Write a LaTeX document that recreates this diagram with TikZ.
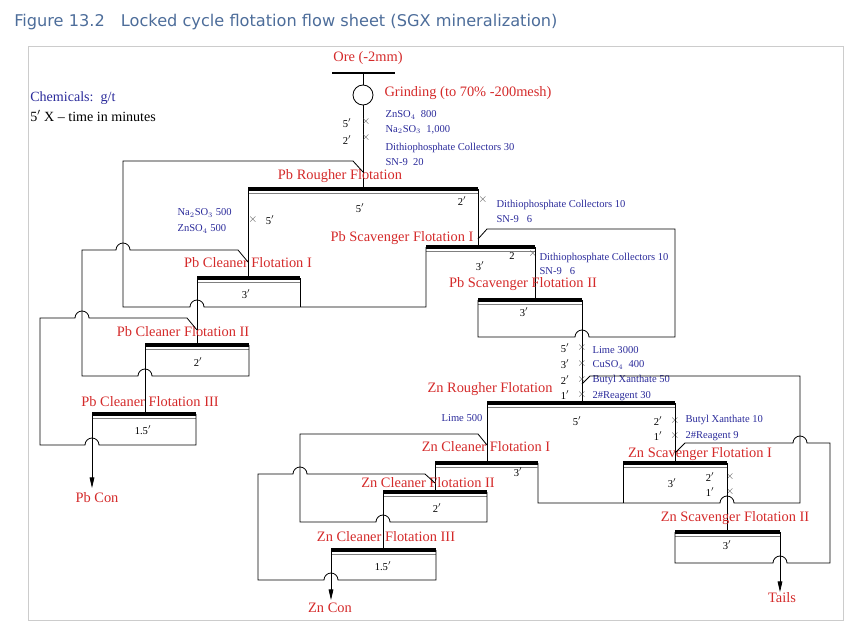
\documentclass[tikz,border=0pt]{standalone}
\usepackage{fontspec}
\setmainfont{Liberation Serif}
\newfontfamily\ttlfont{DejaVu Sans}
\usetikzlibrary{arrows.meta}
\definecolor{lblred}{HTML}{D42A2A}
\definecolor{chemblue}{HTML}{2A2A9A}
\definecolor{ttlblue}{HTML}{4D6D9A}
\newcommand{\cell}[3]{%
  \draw[line width=3.2pt] (#1,#3) -- (#2,#3);
  \draw[line width=0.6pt,gray] (#1,#3+4.5) -- (#2,#3+4.5);}
\begin{document}
\begin{tikzpicture}[x=0.03cm, y=-0.03cm, line width=0.7pt,
  stage/.style = {text=lblred, font=\fontsize{12.3}{13}\selectfont, inner sep=1pt},
  chem/.style = {text=chemblue, font=\fontsize{9}{10}\selectfont, anchor=west, inner sep=1pt},
  tm/.style = {font=\fontsize{9}{10}\selectfont, inner sep=1pt},
  xm/.style = {font=\fontsize{10}{10}\selectfont, text=gray!60!black, inner sep=0pt},
  hl/.style = {start angle=180, end angle=0, radius=0.21cm},
  hr/.style = {start angle=0, end angle=180, radius=0.21cm}]
\useasboundingbox (0,0) rectangle (862,631);
\node[anchor=west, text=ttlblue, font=\ttlfont\fontsize{13.8}{16}\selectfont] (title) at (10,22)
  {Figure 13.2\quad Locked cycle flotation flow sheet (SGX mineralization)};
\draw[gray!40] (28,46) rectangle (843,620);

\node[anchor=west, text=chemblue, font=\fontsize{12}{13}\selectfont] (chemk) at (26,98) {Chemicals:\ \ g/t};
\node[anchor=west, font=\fontsize{12}{13}\selectfont] (timek) at (26,116) {5$'$ X -- time in minutes};

% ore and grinding
\node[stage] (ore) at (368,58) {Ore (-2mm)};
\draw[line width=1.4pt] (332,73) -- (395,73);
\node[draw, circle, minimum size=0.6cm, inner sep=0pt] (grind) at (363,95) {};
\draw (363,73) -- (grind.north);
\draw (grind.south) -- (363,189);
\node[stage, anchor=west] (grindl) at (383,93) {Grinding (to 70\% -200mesh)};
\node[tm] at (347,123) {5$'$}; \node[xm] at (366,122) {$\times$};
\node[tm] at (347,140) {2$'$}; \node[xm] at (366,138) {$\times$};
\node[chem] at (384,115) {ZnSO$_4$\ \ 800};
\node[chem] at (384,130) {Na$_2$SO$_3$\ \ 1,000};
\node[chem] at (384,148) {Dithiophosphate Collectors 30};
\node[chem] at (384,162) {SN-9\ \ 20};

% Pb circuit
\cell{248}{478}{189}
\node[stage] (pbr) at (340,176) {Pb Rougher Flotation};
\node[tm] at (360,208) {5$'$};
\node[tm] at (462,201) {2$'$}; \node[xm] at (483,200) {$\times$};
\node[chem] at (495,205) {Dithiophosphate Collectors 10};
\node[chem] at (495,219) {SN-9\ \ \ 6};
\node[chem] at (176,213) {Na$_2$SO$_3$ 500};
\node[chem] at (176,229) {ZnSO$_4$ 500};
\node[xm] at (253,220) {$\times$}; \node[tm] at (270,220) {5$'$};
\draw (248,189) -- (248,278);
\draw (478,189) -- (478,247);

\cell{426}{535}{247}
\node[stage] (pbs1) at (402,238) {Pb Scavenger Flotation I};
\node[tm] at (480,266) {3$'$};
\node[tm] at (512,256) {2}; \node[xm] at (533,254) {$\times$};
\node[chem] at (538,258) {Dithiophosphate Collectors 10};
\node[chem] at (538,271) {SN-9\ \ \ 6};
\draw (535,247) -- (535,300);

\cell{478}{582}{300}
\node[stage] (pbs2) at (523,284) {Pb Scavenger Flotation II};
\node[tm] at (524,312) {3$'$};
\draw (478,300) -- (478,337) -- (575,337) arc[hl] -- (675,337) -- (675,229) -- (487,229) -- (478,239);
\draw (582,300) -- (582,403);

\cell{197}{300}{278}
\node[stage] (pbc1) at (248,263) {Pb Cleaner Flotation I};
\node[tm] at (246,294) {3$'$};
\draw (363,172) -- (353,161) -- (123,161) -- (123,307) -- (190,307) arc[hl] -- (426,307) -- (426,247);
\draw (300,278) -- (300,307);
\draw (197,278) -- (197,345);

\cell{145}{249}{345}
\node[stage] (pbc2) at (183,332) {Pb Cleaner Flotation II};
\node[tm] at (198,362) {2$'$};
\draw (249,345) -- (249,376) -- (152,376) arc[hr] -- (82,376) -- (82,250) -- (116,250) arc[hl] -- (238,250) -- (248,262);
\draw (145,345) -- (145,414);

\cell{92}{196}{414}
\node[stage] (pbc3) at (150,402) {Pb Cleaner Flotation III};
\node[tm] at (143,430) {1.5$'$};
\draw (196,414) -- (196,445) -- (99,445) arc[hr] -- (40,445) -- (40,318) -- (75,318) arc[hl] -- (187,318) -- (197,330);
\draw[-{Triangle[length=9pt,width=4pt]}] (92,414) -- (92,488);
\node[stage] (pbcon) at (97,498) {Pb Con};

% Zn circuit
\node[tm] at (565,348) {5$'$}; \node[xm] at (582,348) {$\times$}; \node[chem] at (591,350) {Lime 3000};
\node[tm] at (565,364) {3$'$}; \node[xm] at (582,364) {$\times$}; \node[chem] at (591,365) {CuSO$_4$\ \ 400};
\node[tm] at (565,380) {2$'$}; \node[xm] at (582,380) {$\times$}; \node[chem] at (591,380) {Butyl Xanthate 50};
\node[tm] at (565,395) {1$'$}; \node[xm] at (582,395) {$\times$}; \node[chem] at (591,396) {2\#Reagent 30};

\cell{487}{675}{403}
\node[stage] (znr) at (490,389) {Zn Rougher Flotation};
\node[chem, anchor=center] at (462,418) {Lime 500};
\node[tm] at (577,421) {5$'$};
\node[tm] at (658,421) {2$'$}; \node[xm] at (675,421) {$\times$}; \node[chem] at (684,420) {Butyl Xanthate 10};
\node[tm] at (658,436) {1$'$}; \node[xm] at (675,436) {$\times$}; \node[chem] at (684,436) {2\#Reagent 9};
\draw (487,403) -- (487,463);
\draw (675,403) -- (675,463);
\draw (582,384) -- (590,376) -- (800,376) -- (800,503) -- (734,503) arc[hr] -- (538,503) -- (538,463);

\cell{623}{727}{463}
\node[stage] (zns1) at (700,454) {Zn Scavenger Flotation I};
\node[tm] at (672,483) {3$'$};
\node[tm] at (710,477) {2$'$}; \node[xm] at (730,477) {$\times$};
\node[tm] at (710,492) {1$'$}; \node[xm] at (730,492) {$\times$};
\draw (623,463) -- (623,503);
\draw (727,463) -- (727,532);

\cell{675}{780}{532}
\node[stage] (zns2) at (735,518) {Zn Scavenger Flotation II};
\node[tm] at (727,545) {3$'$};
\draw (675,532) -- (675,563) -- (773,563) arc[hl] -- (830,563) -- (830,443) -- (807,443) arc[hr] -- (685,443) -- (675,453);
\draw[-{Triangle[length=9pt,width=4pt]}] (780,532) -- (780,592);
\node[stage] (tails) at (782,598) {Tails};

\cell{435}{538}{463}
\node[stage] (znc1) at (486,447) {Zn Cleaner Flotation I};
\node[tm] at (518,472) {3$'$};
\draw (435,463) -- (435,492);

\cell{383}{487}{492}
\node[stage] (znc2) at (428,483) {Zn Cleaner Flotation II};
\node[tm] at (437,508) {2$'$};
\draw (487,492) -- (487,522) -- (390,522) arc[hr] -- (300,522) -- (300,434) -- (478,434) -- (487,445);
\draw (383,492) -- (383,550);

\cell{331}{436}{550}
\node[stage] (znc3) at (386,537) {Zn Cleaner Flotation III};
\node[tm] at (383,566) {1.5$'$};
\draw (436,550) -- (436,580) -- (338,580) arc[hr] -- (258,580) -- (258,474) -- (293,474) arc[hl] -- (425,474) -- (435,483);
\draw[-{Triangle[length=9pt,width=4pt]}] (331,550) -- (331,600);
\node[stage] (zncon) at (330,608) {Zn Con};
\end{tikzpicture}
\end{document}
